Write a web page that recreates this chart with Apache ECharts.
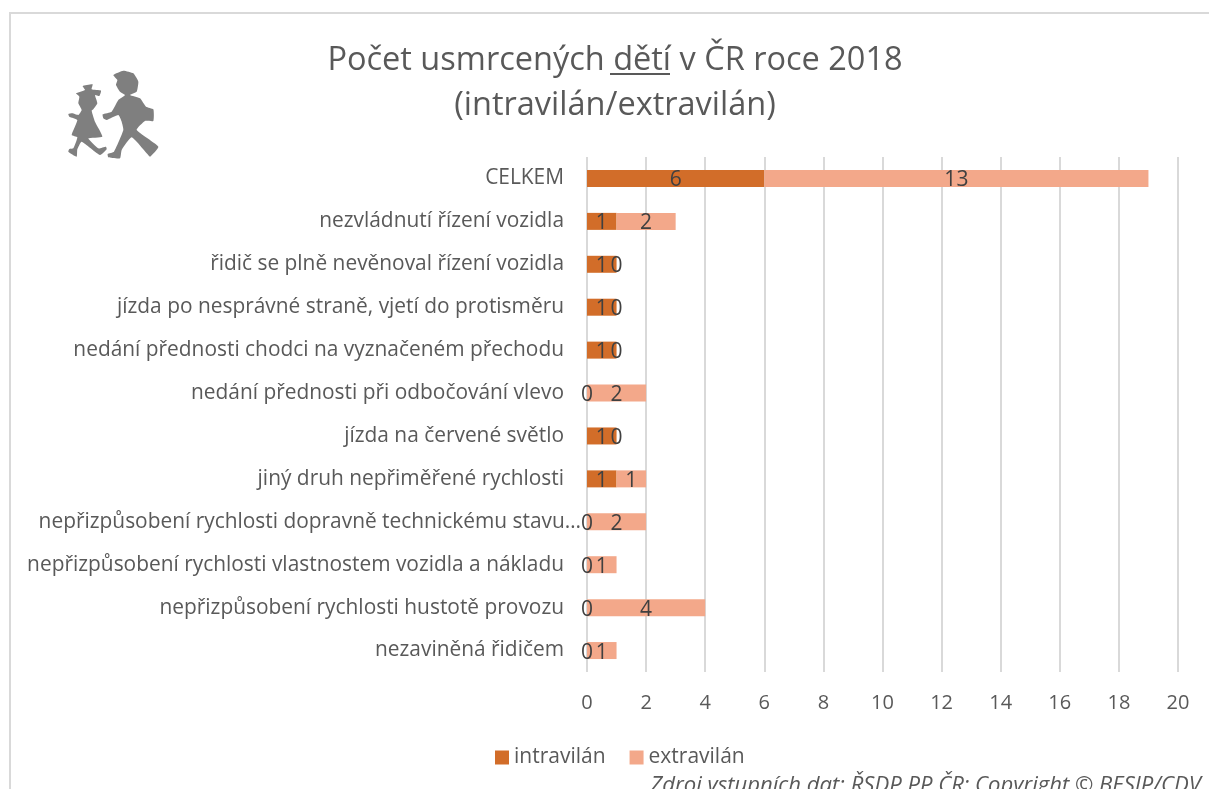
<!DOCTYPE html>
<html><head><meta charset="utf-8">
<style>html,body{margin:0;padding:0;background:#fff}#c{width:1209px;height:789px}</style>
<script src="https://cdn.jsdelivr.net/npm/echarts@6/dist/echarts.min.js"></script>
</head><body><div id="c"></div>
<script>
const categories = ["CELKEM","nezvládnutí řízení vozidla","řidič se plně nevěnoval řízení vozidla","jízda po nesprávné straně, vjetí do protisměru","nedání přednosti chodci na vyznačeném přechodu","nedání přednosti při odbočování vlevo","jízda na červené světlo","jiný druh nepřiměřené rychlosti","nepřizpůsobení rychlosti dopravně technickému stavu…","nepřizpůsobení rychlosti vlastnostem vozidla a nákladu","nepřizpůsobení rychlosti hustotě provozu","nezaviněná řidičem"];
const intravilan = [6,1,1,1,1,0,1,1,0,0,0,0];
const extravilan = [13,2,0,0,0,2,0,1,2,1,4,1];
const FONT = '"Open Sans", sans-serif';
const boy = [[220,75],[250,62],[280,70],[295,95],[290,125],[270,135],[300,145],[318,170],[340,178],[340,213],[315,213],[290,240],[355,290],[330,320],[322,312],[275,262],[245,300],[240,325],[205,322],[203,312],[222,305],[250,240],[245,215],[235,195],[200,210],[190,205],[188,193],[215,185],[235,150],[255,135],[240,125],[228,105],[232,90]];
const girl = [[128,108],[158,103],[155,118],[183,122],[178,138],[165,135],[172,160],[160,178],[155,182],[165,215],[187,260],[145,265],[175,295],[198,290],[200,298],[180,315],[125,275],[112,298],[110,320],[85,305],[88,297],[100,295],[112,262],[95,255],[112,210],[88,200],[85,192],[97,190],[115,195],[125,180],[115,160],[118,140],[108,130],[135,120]];
const chart = echarts.init(document.getElementById('c'), null, {renderer:'canvas'});
const lbl = {show:true, position:'inside', offset:[0,2], color:'#404040', fontSize:21, fontFamily:FONT};
const yData = categories.map(c => c.endsWith('…') ? {value:c, textStyle:{padding:[5,-17,0,0]}} : c);
chart.setOption({
  animation:false,
  backgroundColor:'#fff',
  title:{text:'Počet usmrcených dětí v ČR roce 2018\n(intravilán/extravilán)', left:610, top:33, textAlign:'center',
    textStyle:{fontSize:32.5, fontWeight:'normal', color:'#595959', fontFamily:FONT, lineHeight:45}},
  legend:{left:490, top:742, itemWidth:14, itemHeight:14, itemGap:24, icon:'rect',
    textStyle:{fontSize:21, color:'#595959', fontFamily:FONT}},
  grid:{left:587, right:31, top:157, bottom:117},
  xAxis:{type:'value', min:0, max:20, interval:2, axisLine:{show:false}, axisTick:{show:false},
    splitLine:{show:true, lineStyle:{color:'#d9d9d9', width:2}},
    axisLabel:{margin:21, fontSize:20, color:'#595959', fontFamily:FONT}},
  yAxis:{type:'category', inverse:true, data:yData, axisLine:{show:false}, axisTick:{show:false},
    axisLabel:{interval:0, margin:23, fontSize:20.9, padding:[5,0,0,0], color:'#595959', fontFamily:FONT}},
  series:[
    {name:'intravilán', type:'bar', stack:'a', barWidth:17, data:intravilan, itemStyle:{color:'#d26d29'}, label:lbl},
    {name:'extravilán', type:'bar', stack:'a', barWidth:17, data:extravilan, itemStyle:{color:'#f3a88a'}, label:lbl}
  ],
  graphic:[
    {type:'rect', silent:true, shape:{x:10,y:13,width:1400,height:1000}, style:{fill:'none',stroke:'#d9d9d9',lineWidth:2}},
    {type:'line', silent:true, shape:{x1:610,y1:74,x2:670,y2:74}, style:{stroke:'#595959',lineWidth:2}},
    {type:'group', x:40, y:50, scaleX:1/3, scaleY:1/3, children:[
      {type:'polygon', shape:{points:boy, smooth:0.15}, style:{fill:'#7f7f7f'}},
      {type:'polygon', shape:{points:girl, smooth:0.15}, style:{fill:'#7f7f7f'}}
    ]},
    {type:'text', x:1201, y:775, style:{text:'Zdroj vstupních dat: ŘSDP PP ČR; Copyright © BESIP/CDV', align:'right', fontSize:22.1, fontStyle:'italic', fill:'#595959', fontFamily:FONT}}
  ]
});
</script></body></html>
